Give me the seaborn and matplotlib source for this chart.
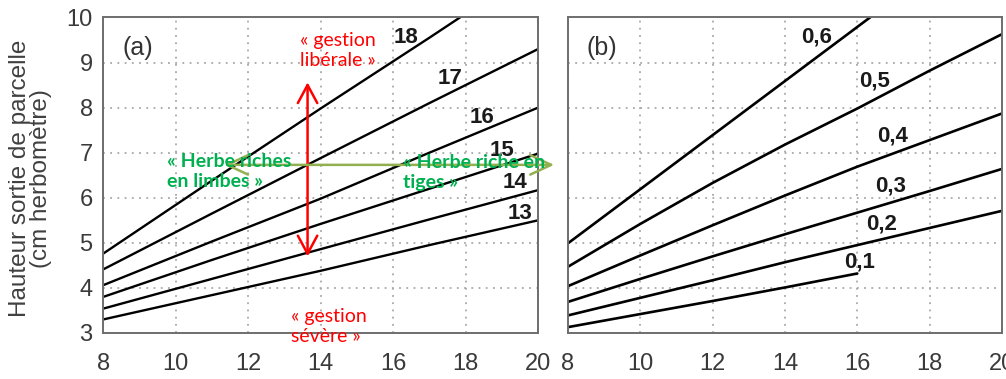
import numpy as np
import pandas as pd
import seaborn as sns
import matplotlib
matplotlib.use("Agg")
import matplotlib.pyplot as plt


# panel (a) - hauteur d'entrée (cm)
x_a = [8, 11, 14, 17, 20]
curves_a = {
    "18": [4.76, 6.38, 7.98, 9.55, 11.15],
    "17": [4.41, 5.65, 6.88, 8.10, 9.30],
    "16": [4.06, 5.03, 5.98, 7.00, 8.00],
    "15": [3.80, 4.62, 5.42, 6.20, 6.98],
    "14": [3.54, 4.20, 4.86, 5.52, 6.17],
    "13": [3.30, 3.84, 4.38, 4.95, 5.50],
}
labels_a_x = [16.35, 17.56, 18.46, 19.0, 19.36, 19.5]
labels_a_y = [9.56, 8.65, 7.79, 7.05, 6.33, 5.65]

# panel (b)
x_b = [8, 10, 12, 14, 16, 18, 20]
curves_b = {
    "0,6": [4.99, 6.19, 7.39, 8.59, 9.79, 10.99, 12.19],
    "0,5": [4.47, 5.42, 6.33, 7.18, 7.98, 8.82, 9.63],
    "0,4": [4.04, 4.72, 5.39, 6.05, 6.69, 7.28, 7.87],
    "0,3": [3.69, 4.20, 4.70, 5.19, 5.67, 6.15, 6.64],
    "0,2": [3.39, 3.78, 4.17, 4.57, 4.95, 5.33, 5.71],
    "0,1": [3.13, 3.42, 3.71, 4.01, 4.32, None, None],
}
labels_b_x = [14.87, 16.48, 16.97, 16.92, 16.67, 16.07]
labels_b_y = [9.56, 8.60, 7.36, 6.26, 5.41, 4.58]

xticks = [8, 10, 12, 14, 16, 18, 20]
yticks = [3, 4, 5, 6, 7, 8, 9, 10]

sns.set_style("white")
plt.rcParams['font.family'] = ['Liberation Sans', 'DejaVu Sans']

fig = plt.figure(figsize=(10.06, 3.79), dpi=100)
ax1 = fig.add_axes([0.1025, 0.1214, 0.4324, 0.8325])
ax2 = fig.add_axes([0.5646, 0.1214, 0.4314, 0.8325])

grey = '#6e6e6e'
for ax in (ax1, ax2):
    ax.set_xlim(8, 20)
    ax.set_ylim(3, 10)
    ax.set_xticks(xticks)
    ax.set_yticks(yticks)
    ax.grid(True, color='#a8a8a8', linestyle=(0, (1, 3)), linewidth=1.3)
    for s in ax.spines.values():
        s.set_color(grey)
        s.set_linewidth(1.4)
    ax.tick_params(direction='inout', length=7, width=1.2, color=grey,
                   labelsize=17, labelcolor='#3a3a3a')
    ax.tick_params(axis='x', pad=11)
    ax.tick_params(axis='y', pad=4)
    ax.set_xlabel("")

# courbes
for name, ys in curves_a.items():
    sns.lineplot(x=x_a, y=ys, ax=ax1, color='black', linewidth=1.7)
for name, ys in curves_b.items():
    df = pd.DataFrame({"x": x_b, "y": ys}).dropna()
    sns.lineplot(data=df, x="x", y="y", ax=ax2, color='black', linewidth=1.9)

for lab, lx, ly in zip(curves_a.keys(), labels_a_x, labels_a_y):
    ax1.text(lx, ly, lab, ha='center', va='center', fontsize=16,
             fontweight='bold', color='#1a1a1a')
for lab, lx, ly in zip(curves_b.keys(), labels_b_x, labels_b_y):
    ax2.text(lx, ly, lab, ha='center', va='center', fontsize=16,
             fontweight='bold', color='#1a1a1a')

ax1.text(8.95, 9.33, "(a)", ha='center', va='center', fontsize=18, color='#333333')
ax2.text(8.93, 9.33, "(b)", ha='center', va='center', fontsize=18, color='#333333')

ax2.set_yticklabels([])
ax1.set_ylabel("Hauteur sortie de parcelle\n(cm herbomètre)", fontsize=17.5,
               color='#404040', linespacing=0.9)
ax1.yaxis.set_label_coords(-0.118, 0.49)
ax2.set_ylabel("")

# flèches et annotations
ax1.annotate("", xy=(13.64, 8.56), xytext=(13.64, 4.70),
             arrowprops=dict(arrowstyle='<->,head_length=0.65,head_width=0.35',
                             mutation_scale=20, color='red', lw=1.8,
                             shrinkA=0, shrinkB=0))
ax1.annotate("", xy=(20.44, 6.73), xytext=(11.34, 6.73),
             annotation_clip=False,
             arrowprops=dict(arrowstyle='<->,head_length=0.75,head_width=0.35',
                             mutation_scale=20, color='#92b050', lw=1.8,
                             shrinkA=0, shrinkB=0))

ax1.text(13.43, 9.27, "« gestion\nlibérale »", ha='left', va='center',
         fontsize=14, color='red', family='Lato', linespacing=1.25)
ax1.text(13.18, 3.14, "« gestion\nsévère »", ha='left', va='center',
         fontsize=14, color='red', family='Lato', linespacing=1.25, clip_on=False)
ax1.text(9.77, 6.59, "« Herbe riches\nen limbes »", ha='left', va='center',
         fontsize=14, color='#00b050', fontweight='bold', family='Lato',
         linespacing=1.2)
ax1.text(16.28, 6.56, "« Herbe riche en\ntiges »", ha='left', va='center',
         fontsize=14, color='#00b050', fontweight='bold', family='Lato',
         linespacing=1.2, clip_on=False)

fig.savefig("out.png", dpi=100)
